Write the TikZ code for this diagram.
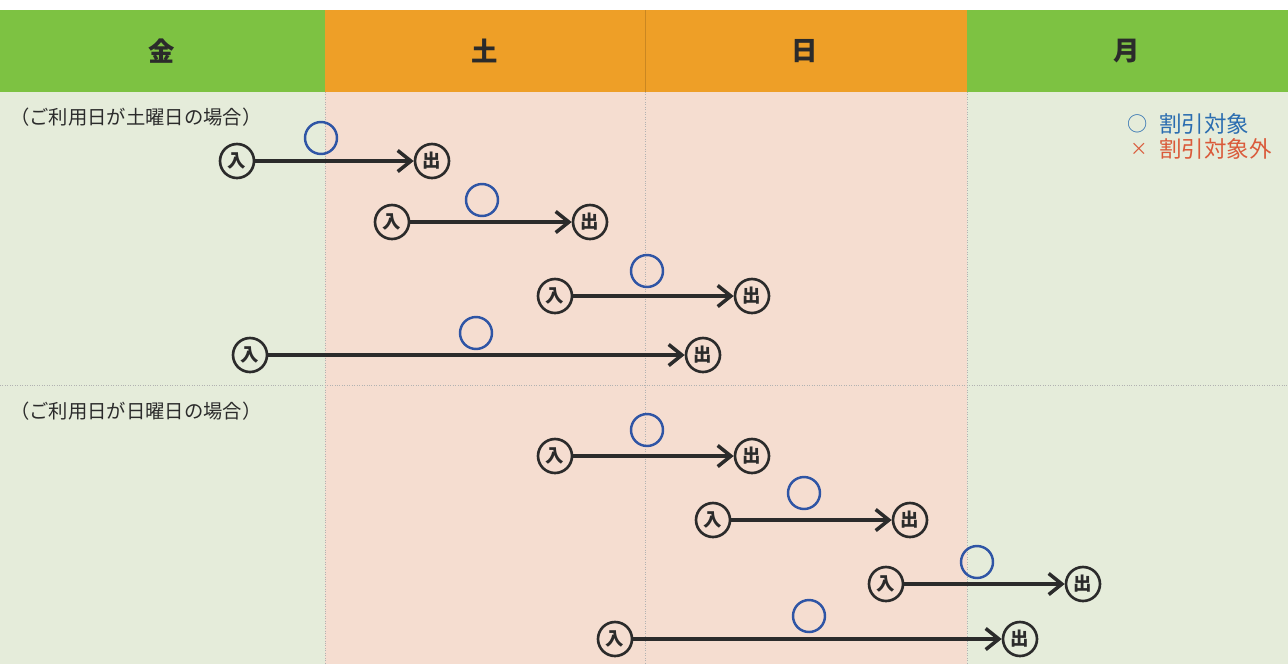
\documentclass[tikz,border=0pt]{standalone}
\usepackage{fontspec}
\newfontfamily\jp{Noto Sans CJK JP}
\usetikzlibrary{arrows.meta}
\definecolor{hgreen}{HTML}{7DC242}
\definecolor{horange}{HTML}{EE9F27}
\definecolor{bgreen}{HTML}{E5ECDA}
\definecolor{bpink}{HTML}{F5DDD0}
\definecolor{okblue}{HTML}{2F55A5}
\definecolor{legblue}{HTML}{2A6DB0}
\definecolor{legred}{HTML}{DA5A3A}
\definecolor{ink}{HTML}{2B2B2B}
\tikzset{
  io/.style={circle,draw=ink,line width=1.5pt,minimum size=34*0.02cm,inner sep=0pt,font=\jp\bfseries\fontsize{10.5}{10.5}\selectfont,text=ink},
  flow/.style={draw=ink,line width=2pt,-{Straight Barb[length=7.5pt,width=12pt,line width=2pt]}},
  ok/.style={circle,draw=okblue,line width=1.4pt,minimum size=32*0.02cm,inner sep=0pt},
  hdr/.style={font=\jp\bfseries\fontsize{15}{15}\selectfont,text=ink},
  case/.style={font=\jp\fontsize{11}{11}\selectfont,text=ink,anchor=west},
  leg/.style={font=\jp\fontsize{12.8}{13}\selectfont,anchor=west,inner sep=0pt},
  grid/.style={draw=gray!60,line width=0.4pt,densely dotted}
}
\begin{document}
\begin{tikzpicture}[x=0.02cm,y=-0.02cm]
\useasboundingbox (0,0) rectangle (1288,664);
\fill[white] (0,0) rectangle (1288,664);
% body
\fill[bgreen] (0,92) rectangle (325,664);
\fill[bpink] (325,92) rectangle (967,664);
\fill[bgreen] (967,92) rectangle (1288,664);
% header
\fill[hgreen] (0,10) rectangle (325,92);
\fill[horange] (325,10) rectangle (967,92);
\fill[hgreen] (967,10) rectangle (1288,92);
\draw[draw=horange!85!black,line width=0.3pt] (645,10) -- (645,92);
% grid
\draw[grid] (325,92) -- (325,664);
\draw[grid] (645,92) -- (645,664);
\draw[grid] (967,92) -- (967,664);
\draw[grid] (0,385) -- (1288,385);
% header texts
\node[hdr] (fri) at (162,51) {金};
\node[hdr] (sat) at (485,51) {土};
\node[hdr] (sun) at (805,51) {日};
\node[hdr] (mon) at (1127,51) {月};
% case labels
\node[case] (c1) at (4,117) {（ご利用日が土曜日の場合）};
\node[case] (c2) at (4,411) {（ご利用日が日曜日の場合）};
% legend
\node[leg,text=legblue] (s1) at (1127,124) {{\fontsize{11.5}{11}\selectfont ○}};
\node[leg,text=legblue] (l1) at (1159,124) {割引対象};
\node[leg,text=legred] (s2) at (1130,149) {{\fontsize{10}{11}\selectfont ×}};
\node[leg,text=legred] (l2) at (1159,149) {割引対象外};
% rows
\foreach \i/\ax/\ay/\bx/\cx/\cy in {
  1/237/161/432/321/138,
  2/392/222/590/482/200,
  3/555/296/752/647/271,
  4/250/355/703/476/333,
  5/555/456/752/647/430,
  6/713/520/910/804/493,
  7/886/584/1083/977/562,
  8/615/639/1020/809/616}{
  \node[io] (in\i) at (\ax,\ay) {入};
  \node[io] (out\i) at (\bx,\ay) {出};
  \node[ok] (ok\i) at (\cx,\cy) {};
  \draw[flow] (in\i) -- (out\i);
}
\end{tikzpicture}
\end{document}
